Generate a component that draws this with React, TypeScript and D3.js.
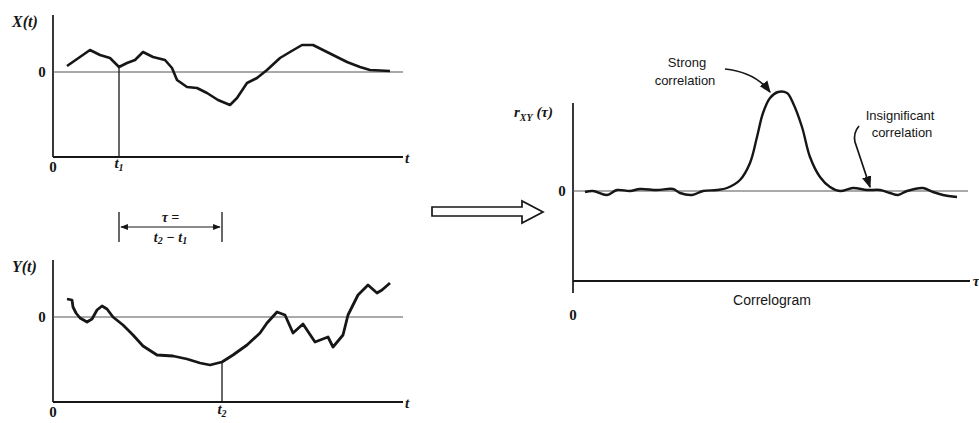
import React from "react";
import { scaleLinear, line, curveCatmullRom, curveLinear } from "d3";

// X(t) (t in panel units, value relative to the 0 line)
const xT = [14, 37, 47, 57, 66, 74, 82, 90, 100, 112, 119, 124, 134, 144, 154, 165, 177, 184, 194, 204, 214, 227, 237, 249, 260, 274, 294, 307, 317, 337];
const xV = [6, 22, 17, 14, 5, 9, 12, 20, 15, 12, 4, -8, -15, -16, -21, -28, -33, -26, -11, -6, 2, 14, 20, 27, 27, 20, 10, 5, 2, 1];

// Y(t)
const yT = [14, 19, 20, 23, 27, 34, 39, 44, 49, 54, 60, 70, 80, 90, 104, 120, 134, 147, 157, 169, 180, 194, 207, 214, 224, 232, 240, 250, 262, 275, 280, 290, 295, 305, 315, 324, 329, 337];
const yV = [18, 17, 10, 4, -1, -5, -2, 7, 11, 8, 0, -8, -18, -29, -38, -39, -42, -46, -48, -45, -38, -28, -16, -6, 5, 2, -16, -7, -25, -20, -30, -18, 2, 22, 32, 24, 27, 34];

// correlogram r_XY(tau)
const tau = [12, 20, 34, 44, 57, 67, 84, 100, 107, 119, 130, 144, 154, 167, 177, 184, 190, 197, 205, 214, 220, 229, 237, 247, 257, 267, 280, 294, 307, 317, 325, 334, 350, 360, 370, 384];
const rV = [-1, 0, -4, 1, 0, 2, 1, 2, -2, -4, 0, 1, 3, 11, 28, 54, 78, 93, 99, 98, 88, 64, 34, 14, 4, 0, 3, 1, 1, -2, -4, 0, 3, -1, -4, -6];

const t1 = 66;
const t2 = 169;

const serif = "'Liberation Serif', 'DejaVu Serif', serif";
const sans = "'Liberation Sans', Arial, sans-serif";
const ink = "#161616";

function App() {
  const W = 979, H = 423;

  // left panels share the time axis
  const xs = scaleLinear().domain([0, 350]).range([53, 403]);
  const ysTop = scaleLinear().domain([-85, 57]).range([157, 15]);
  const ysBot = scaleLinear().domain([-85, 57]).range([402, 260]);
  // right panel
  const xr = scaleLinear().domain([0, 400]).range([573, 973]);
  const yr = scaleLinear().domain([-90, 88]).range([281, 103]);

  const lineTop = line<number>().x((d, i) => xs(xT[i])).y(d => ysTop(d)).curve(curveLinear);
  const lineBot = line<number>().x((d, i) => xs(yT[i])).y(d => ysBot(d)).curve(curveLinear);
  const lineR = line<number>().x((d, i) => xr(tau[i])).y(d => yr(d)).curve(curveCatmullRom);

  const x1 = xs(t1), x2 = xs(t2);
  const xAtT1 = xV[xT.indexOf(t1)];
  const yAtT2 = yV[yT.indexOf(t2)];

  const panel = (ys: any, yTop: number, yBottom: number, label: string) => (
    <g>
      <line x1={xs(0)} x2={xs(0)} y1={yTop} y2={yBottom} stroke={ink} strokeWidth={1.7} />
      <line x1={xs(0)} x2={xs(350)} y1={yBottom} y2={yBottom} stroke={ink} strokeWidth={1.9} />
      <line x1={xs(0)} x2={xs(350)} y1={ys(0)} y2={ys(0)} stroke="#555" strokeWidth={1} />
      <text x={42} y={ys(0) + 5} textAnchor="middle" fontFamily={serif} fontWeight="bold" fontSize={15} fill={ink}>0</text>
      <text x={xs(0)} y={yBottom + 15} textAnchor="middle" fontFamily={serif} fontWeight="bold" fontSize={15} fill={ink}>0</text>
      <text x={407} y={yBottom + 6} textAnchor="middle" fontFamily={serif} fontStyle="italic" fontWeight="bold" fontSize={15} fill={ink}>t</text>
      <text x={12} y={yTop + 12} fontFamily={serif} fontStyle="italic" fontWeight="bold" fontSize={16} fill={ink}>{label}</text>
    </g>
  );

  return (
    <svg width={W} height={H} style={{ position: "absolute", left: 0, top: 0, background: "#fff" }}>
      <defs>
        <marker id="ah" viewBox="0 0 10 10" refX="9" refY="5" markerWidth="7" markerHeight="7" orient="auto-start-reverse">
          <path d="M0,1 L10,5 L0,9 z" fill={ink} />
        </marker>
      </defs>

      {/* X(t) */}
      {panel(ysTop, 15, 157, "X(t)")}
      <line x1={x1} x2={x1} y1={ysTop(xAtT1)} y2={157} stroke={ink} strokeWidth={1.3} />
      <path d={lineTop(xV) || ""} fill="none" stroke={ink} strokeWidth={2.6} strokeLinejoin="round" />
      <text x={x1} y={168} textAnchor="middle" fontFamily={serif} fontStyle="italic" fontWeight="bold" fontSize={15} fill={ink}>
        t<tspan fontSize={10} dy={3}>1</tspan>
      </text>

      {/* tau bracket */}
      <line x1={x1} x2={x1} y1={212} y2={242} stroke={ink} strokeWidth={1.3} />
      <line x1={x2} x2={x2} y1={212} y2={242} stroke={ink} strokeWidth={1.3} />
      <line x1={x1 + 2} x2={x2 - 2} y1={227} y2={227} stroke={ink} strokeWidth={1.1} markerStart="url(#ah)" markerEnd="url(#ah)" />
      <text x={(x1 + x2) / 2} y={222} textAnchor="middle" fontFamily={serif} fontStyle="italic" fontWeight="bold" fontSize={14} fill={ink}>τ =</text>
      <text x={(x1 + x2) / 2} y={242} textAnchor="middle" fontFamily={serif} fontStyle="italic" fontWeight="bold" fontSize={14} fill={ink}>
        t<tspan fontSize={10} dy={2}>2</tspan><tspan dy={-2}> − t</tspan><tspan fontSize={10} dy={2}>1</tspan>
      </text>

      {/* Y(t) */}
      {panel(ysBot, 260, 402, "Y(t)")}
      <line x1={x2} x2={x2} y1={ysBot(yAtT2)} y2={402} stroke={ink} strokeWidth={1.3} />
      <path d={lineBot(yV) || ""} fill="none" stroke={ink} strokeWidth={2.8} strokeLinejoin="round" />
      <text x={x2} y={414} textAnchor="middle" fontFamily={serif} fontStyle="italic" fontWeight="bold" fontSize={15} fill={ink}>
        t<tspan fontSize={10} dy={3}>2</tspan>
      </text>

      {/* hollow arrow */}
      <path d="M432,207 L522,207 L522,201 L543,212 L522,223 L522,216 L432,216 Z" fill="#fff" stroke={ink} strokeWidth={1.7} strokeLinejoin="miter" />

      {/* correlogram */}
      <line x1={xr(0)} x2={xr(0)} y1={103} y2={293} stroke={ink} strokeWidth={1.7} />
      <line x1={xr(0)} x2={xr(397)} y1={281} y2={281} stroke={ink} strokeWidth={1.9} />
      <line x1={xr(0)} x2={xr(395)} y1={yr(0)} y2={yr(0)} stroke="#555" strokeWidth={1} />
      <path d={lineR(rV) || ""} fill="none" stroke={ink} strokeWidth={2.4} strokeLinejoin="round" />
      <text x={562} y={yr(0) + 5} textAnchor="middle" fontFamily={serif} fontWeight="bold" fontSize={15} fill={ink}>0</text>
      <text x={xr(0)} y={320} textAnchor="middle" fontFamily={serif} fontWeight="bold" fontSize={15} fill={ink}>0</text>
      <text x={976} y={286} textAnchor="middle" fontFamily={serif} fontStyle="italic" fontWeight="bold" fontSize={15} fill={ink}>τ</text>
      <text x={514} y={117} fontFamily={serif} fontStyle="italic" fontWeight="bold" fontSize={15} fill={ink}>
        r<tspan fontSize={10} dy={4}>XY</tspan><tspan dy={-4} fontSize={15}> (τ)</tspan>
      </text>
      <text x={772} y={305} textAnchor="middle" fontFamily={sans} fontSize={14} fill={ink}>Correlogram</text>

      <text x={687} y={67} textAnchor="middle" fontFamily={sans} fontSize={13} fill={ink}>Strong</text>
      <text x={685} y={85} textAnchor="middle" fontFamily={sans} fontSize={13} fill={ink}>correlation</text>
      <path d="M725,69 Q755,72 770,92" fill="none" stroke={ink} strokeWidth={1.7} markerEnd="url(#ah)" />

      <text x={900} y={120} textAnchor="middle" fontFamily={sans} fontSize={13} fill={ink}>Insignificant</text>
      <text x={902} y={137} textAnchor="middle" fontFamily={sans} fontSize={13} fill={ink}>correlation</text>
      <path d="M859,126 Q853,133 855,142 L870,187" fill="none" stroke={ink} strokeWidth={1.7} markerEnd="url(#ah)" />
    </svg>
  );
}

export default App;
